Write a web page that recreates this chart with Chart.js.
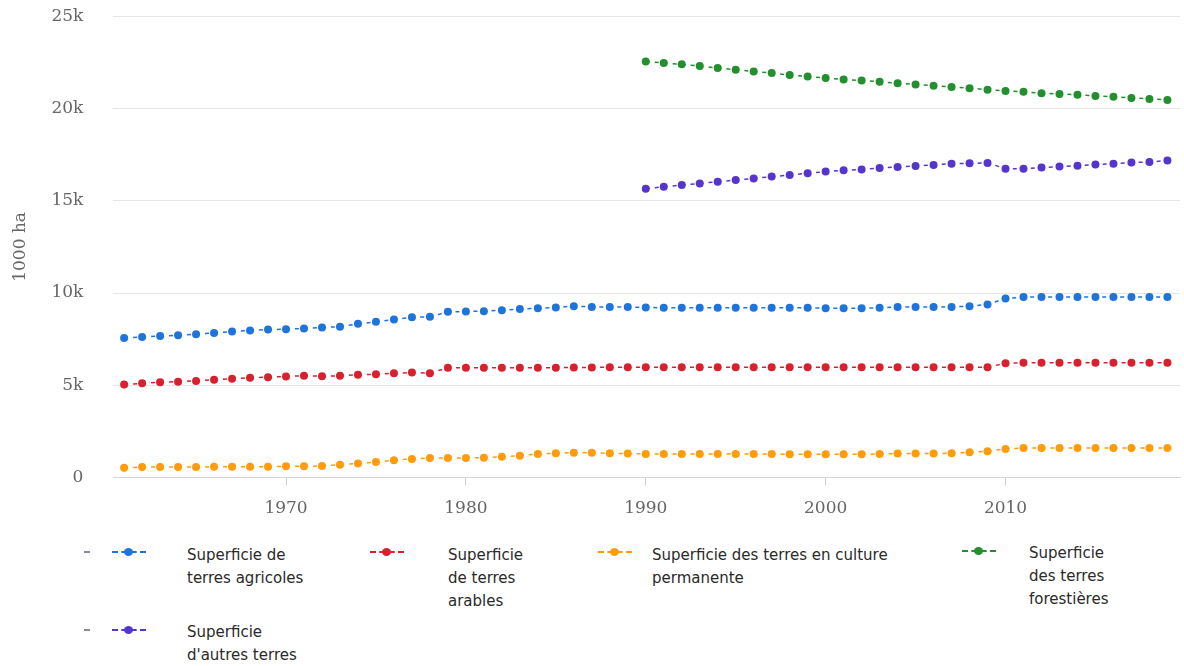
<!DOCTYPE html>
<html>
<head>
<meta charset="utf-8">
<script src="https://cdn.jsdelivr.net/npm/chart.js@4.4.1/dist/chart.umd.min.js"></script>
<style>
  html, body { margin: 0; padding: 0; background: #ffffff; }
  body { width: 1184px; height: 666px; position: relative; overflow: hidden; }
  #wrap { position: absolute; left: 0; top: -24px; width: 1184px; height: 558px; }
  .leg { position: absolute; font-family: "DejaVu Sans", sans-serif; font-size: 15px; line-height: 23px; color: #2a2a2a; }
  .sym { position: absolute; width: 34px; height: 10px; }
  .sym .ln { position: absolute; left: 0; right: 0; top: 4px; border-top: 2px dashed; }
  .sym .dt { position: absolute; left: 12px; top: 1px; width: 9px; height: 8px; border-radius: 50%; }
  .mini { position: absolute; width: 6px; height: 2px; background: #8a8a9a; }
</style>
</head>
<body>
<div id="wrap"><canvas id="c"></canvas></div>
<div id="legend"></div>
<script>
const years = [1961,1962,1963,1964,1965,1966,1967,1968,1969,1970,
  1971,1972,1973,1974,1975,1976,1977,1978,1979,1980,
  1981,1982,1983,1984,1985,1986,1987,1988,1989,1990,
  1991,1992,1993,1994,1995,1996,1997,1998,1999,2000,
  2001,2002,2003,2004,2005,2006,2007,2008,2009,2010,
  2011,2012,2013,2014,2015,2016,2017,2018,2019];

const agricole = [7560,7620,7670,7710,7770,7840,7910,7970,8020,8040,
  8080,8130,8180,8330,8440,8570,8690,8710,8980,9000,
  9020,9070,9130,9170,9220,9290,9250,9250,9240,9220,
  9200,9200,9200,9200,9200,9200,9200,9200,9200,9180,
  9180,9180,9200,9250,9250,9250,9250,9290,9380,9710,
  9780,9780,9780,9780,9780,9780,9780,9780,9780];

const arable = [5040,5110,5170,5200,5240,5300,5350,5410,5440,5480,
  5520,5490,5520,5570,5600,5650,5690,5660,5950,5950,
  5950,5950,5950,5950,5950,5970,5970,5980,5980,5980,
  5980,5980,5980,5980,5980,5980,5980,5980,5980,5980,
  5980,5980,5980,5980,5980,5980,5980,5980,5980,6200,
  6220,6220,6220,6220,6220,6220,6220,6220,6220];

const permanente = [530,570,570,570,570,590,590,590,590,610,
  610,630,700,770,840,940,1010,1060,1060,1060,
  1080,1130,1190,1280,1320,1350,1340,1320,1300,1280,
  1280,1280,1280,1280,1280,1280,1280,1260,1260,1260,
  1260,1260,1280,1300,1300,1300,1320,1370,1430,1550,
  1610,1610,1610,1610,1610,1610,1610,1610,1610];

// 1990-2019
const forestYears = [1990,1991,1992,1993,1994,1995,1996,1997,1998,1999,
  2000,2001,2002,2003,2004,2005,2006,2007,2008,2009,
  2010,2011,2012,2013,2014,2015,2016,2017,2018,2019];
const forestiere = [22550,22460,22390,22300,22190,22100,22010,21920,21810,21730,
  21650,21570,21520,21450,21370,21300,21230,21170,21100,21020,
  20950,20900,20830,20790,20740,20680,20630,20570,20520,20460];
const autres = [15650,15760,15850,15940,16030,16120,16210,16310,16390,16490,
  16580,16650,16700,16770,16830,16880,16940,17010,17030,17050,
  16740,16740,16800,16850,16900,16960,17010,17070,17100,17180];

const xTicks = [1970,1980,1990,2000,2010];
const yTicks = [0,5000,10000,15000,20000,25000];

const seriesNames = [
  "Superficie de terres agricoles",
  "Superficie de terres arables",
  "Superficie des terres en culture permanente",
  "Superficie des terres forestières",
  "Superficie d'autres terres"
];
const colors = ['#1f74dc','#d8202f','#ff9c0c','#238f2f','#5535cc'];

function pts(xs, ys) { return xs.map((x, i) => ({x: x, y: ys[i]})); }

const dataSets = [
  pts(years, agricole),
  pts(years, arable),
  pts(years, permanente),
  pts(forestYears, forestiere),
  pts(forestYears, autres)
];

const datasets = dataSets.map((d, i) => ({
  label: seriesNames[i],
  data: d,
  borderColor: colors[i],
  backgroundColor: colors[i],
  pointBackgroundColor: colors[i],
  pointBorderColor: colors[i],
  pointRadius: 4,
  pointBorderWidth: 0,
  borderWidth: 1.5,
  borderDash: [4, 5],
  tension: 0,
  fill: false
}));

const serif = '"DejaVu Serif", serif';

new Chart(document.getElementById('c'), {
  type: 'line',
  data: { datasets: datasets },
  options: {
    responsive: true,
    maintainAspectRatio: false,
    animation: false,
    events: [],
    layout: { padding: { top: 6, right: 0, bottom: 2, left: 10 } },
    plugins: { legend: { display: false }, tooltip: { enabled: false } },
    scales: {
      x: {
        type: 'linear',
        min: 1960.4,
        max: 2019.7,
        afterBuildTicks: (s) => { s.ticks = xTicks.map(v => ({ value: v })); },
        ticks: {
          autoSkip: false,
          maxRotation: 0,
          padding: 13,
          color: '#666',
          font: { family: serif, size: 17 },
          callback: (v) => String(v)
        },
        grid: { drawOnChartArea: false, drawTicks: true, tickLength: 8, color: '#d0d0d0' },
        border: { display: true, color: '#d6d6d6', width: 1 }
      },
      y: {
        min: 0,
        max: 25000,
        afterBuildTicks: (s) => { s.ticks = yTicks.map(v => ({ value: v })); },
        ticks: {
          padding: 30,
          color: '#666',
          font: { family: serif, size: 17 },
          callback: (v) => v === 0 ? '0' : (v / 1000) + 'k'
        },
        grid: { drawTicks: false, color: '#e6e6e6', lineWidth: 1 },
        border: { display: false },
        title: {
          display: true,
          text: '1000 ha',
          color: '#666',
          font: { family: serif, size: 17 },
          padding: { top: 0, bottom: -9 }
        }
      }
    }
  }
});

// HTML legend
const legendPos = [
  { sx: 112, sy: 547, tx: 187, ty: 544, w: 150, mini: true },
  { sx: 370, sy: 547, tx: 448, ty: 544, w: 110, mini: false },
  { sx: 598, sy: 547, tx: 652, ty: 544, w: 270, mini: false },
  { sx: 962, sy: 546, tx: 1029, ty: 542, w: 110, mini: false },
  { sx: 112, sy: 625, tx: 187, ty: 621, w: 150, mini: true }
];
const legendLines = [
  ["Superficie de", "terres agricoles"],
  ["Superficie", "de terres", "arables"],
  ["Superficie des terres en culture", "permanente"],
  ["Superficie", "des terres", "forestières"],
  ["Superficie", "d'autres terres"]
];
const lg = document.getElementById('legend');
legendPos.forEach((p, i) => {
  if (p.mini) {
    const m = document.createElement('div');
    m.className = 'mini';
    m.style.left = (p.sx - 28) + 'px';
    m.style.top = (p.sy + 4) + 'px';
    lg.appendChild(m);
  }
  const s = document.createElement('div');
  s.className = 'sym';
  s.style.left = p.sx + 'px';
  s.style.top = p.sy + 'px';
  const ln = document.createElement('div');
  ln.className = 'ln';
  ln.style.borderColor = colors[i];
  const dt = document.createElement('div');
  dt.className = 'dt';
  dt.style.background = colors[i];
  s.appendChild(ln); s.appendChild(dt);
  lg.appendChild(s);
  const t = document.createElement('div');
  t.className = 'leg';
  t.style.left = p.tx + 'px';
  t.style.top = p.ty + 'px';
  t.style.width = p.w + 'px';
  t.innerHTML = legendLines[i].join('<br>');
  lg.appendChild(t);
});
</script>
</body>
</html>
